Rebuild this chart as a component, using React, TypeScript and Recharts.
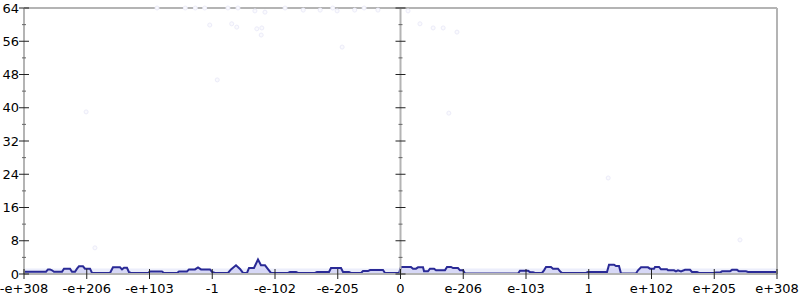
import { ComposedChart, Area, Scatter, XAxis, YAxis, ReferenceLine, ReferenceArea } from 'recharts'

// x positions are in tick units (0..12), one unit per labelled tick
const xTickLabels = ['-e+308', '-e+206', '-e+103', '-1', '-e-102', '-e-205', '0', 'e-206', 'e-103', '1', 'e+102', 'e+205', 'e+308']
const xTicks = [0, 1, 2, 3, 4, 5, 6, 7, 8, 9, 10, 11, 12]
const yTicks = [0, 4, 8, 12, 16, 20, 24, 28, 32, 36, 40, 44, 48, 52, 56, 60, 64]

const countX = [
  0, 0.351, 0.382, 0.414, 0.446, 0.478, 0.606, 0.637, 0.733, 0.765, 0.813, 0.845, 0.876, 0.94, 0.972, 1.052,
  1.084, 1.371, 1.418, 1.53, 1.562, 1.594, 1.641, 1.673, 1.705, 1.976, 2.008, 2.199, 2.231, 2.438, 2.47, 2.598,
  2.629, 2.725, 2.773, 2.821, 2.964, 2.996, 3.044, 3.251, 3.299, 3.378, 3.442, 3.49, 3.554, 3.586, 3.665, 3.729,
  3.777, 3.841, 3.888, 3.936, 4.207, 4.239, 4.335, 4.367, 4.637, 4.669, 4.861, 4.892, 5.052, 5.084, 5.179, 5.211,
  5.371, 5.402, 5.482, 5.514, 5.721, 5.753, 5.976, 6.008, 6.167, 6.199, 6.247, 6.279, 6.359, 6.375, 6.438, 6.47,
  6.534, 6.566, 6.709, 6.741, 6.805, 6.837, 6.916, 6.948, 6.996, 7.028, 7.873, 7.904, 8.032, 8.064, 8.112, 8.143,
  8.255, 8.287, 8.319, 8.398, 8.43, 8.51, 8.542, 8.574, 8.956, 8.988, 9.291, 9.323, 9.402, 9.434, 9.482, 9.514,
  9.753, 9.785, 9.833, 9.944, 9.976, 10.04, 10.056, 10.12, 10.151, 10.247, 10.263, 10.359, 10.39, 10.422, 10.47, 10.534,
  10.614, 10.645, 10.725, 10.757, 10.996, 11.028, 11.092, 11.124, 11.251, 11.283, 11.363, 11.394, 11.506, 11.538, 12,
]
const countY = [
  0.55, 0.55, 1.1, 1.1, 0.9, 0.55, 0.55, 1.28, 1.28, 0.55, 0.55, 1.28, 1.85, 1.85, 1.28, 1.28,
  0.25, 0.25, 1.6, 1.6, 1.12, 1.5, 1.5, 0.45, 0.25, 0.25, 0.6, 0.6, 0.25, 0.25, 0.6, 0.6,
  1.1, 1.1, 1.6, 1.1, 1.1, 0.5, 0.25, 0.25, 1.1, 2.1, 1.2, 0.25, 0.25, 1.45, 1.45, 3.5,
  2.1, 2.1, 1.2, 0.25, 0.25, 0.48, 0.48, 0.25, 0.25, 0.48, 0.48, 1.45, 1.45, 0.48, 0.48, 0.25,
  0.25, 0.7, 0.7, 0.95, 0.95, 0.25, 0.25, 1.7, 1.7, 1.28, 1.28, 1.6, 1.6, 0.64, 0.64, 1.28,
  1.28, 0.88, 0.88, 1.7, 1.7, 1.44, 1.44, 0.88, 0.88, 0.1, 0.1, 0.8, 0.8, 0.45, 0.45, 0.25,
  0.25, 0.88, 1.7, 1.7, 1.28, 1.28, 0.64, 0.25, 0.25, 0.48, 0.48, 2.25, 2.25, 1.92, 1.92, 0.1,
  0.1, 0.88, 1.6, 1.6, 1.28, 1.28, 1.7, 1.7, 1.12, 1.12, 0.9, 0.9, 0.64, 0.88, 0.64, 1.0,
  1.0, 0.48, 0.48, 0.25, 0.25, 0.36, 0.36, 0.64, 0.64, 1.0, 1.0, 0.64, 0.64, 0.5, 0.5,
]

// faint sample dots
const dotX = [2.12, 2.57, 2.73, 2.88, 3.25, 3.41, 3.68, 3.84, 4.16, 4.45, 4.72, 4.92, 4.99, 5.27, 5.42, 5.64, 6.12, 6.31, 6.52, 6.68, 6.9, 2.96, 3.31, 3.39, 3.71, 3.79, 3.78, 5.07, 3.08, 6.77, 0.99, 9.31, 11.41, 1.13]
const dotY = [64, 64, 64, 64, 64, 64, 63.3, 63, 64, 63.5, 63.5, 64, 63.3, 63.5, 64, 63.5, 63.3, 60.2, 59.2, 59.2, 58.2, 59.9, 60.2, 59.4, 59, 59.2, 57.5, 54.6, 46.7, 38.7, 39, 23.1, 8.2, 6.3]

const data = countX.map((x, i) => ({ x, count: countY[i] }))
const dots = dotX.map((x, i) => ({ x, y: dotY[i] }))
const midTicks = yTicks.map((y) => ({ x: 6, y }))

const FONT = 'DejaVu Sans'
const GRAY = '#b4b4b4'

const XTick = ({ x, y, index }: any) => (
  <g>
    <line x1={x} x2={x} y1={y - 5} y2={y + 5} stroke="#222" strokeWidth={1} />
    <text x={x} y={y + 19} textAnchor="middle" fontFamily={FONT} fontSize={13} fill="#000">
      {xTickLabels[index]}
    </text>
  </g>
)

const YTickLeft = ({ x, y, payload }: any) => {
  const major = payload.value % 8 === 0
  return (
    <g>
      <line x1={major ? x - 5 : x - 2} x2={major ? x + 5 : x + 2} y1={y} y2={y} stroke={major ? '#222' : '#666'} />
      {major && (
        <text x={x - 5} y={y} dy="0.36em" textAnchor="end" fontFamily={FONT} fontSize={13} fill="#000">
          {payload.value}
        </text>
      )}
    </g>
  )
}

const YTickRight = ({ x, y, payload }: any) => {
  const major = payload.value % 8 === 0
  return <line x1={major ? x - 5 : x - 2} x2={major ? x + 5 : x + 2} y1={y} y2={y} stroke={major ? '#222' : '#666'} />
}

const MidTick = ({ cx, cy, payload }: any) => {
  const major = payload.y % 8 === 0
  return <line x1={major ? cx - 5 : cx - 2} x2={major ? cx + 5 : cx + 2} y1={cy} y2={cy} stroke={major ? '#222' : '#666'} />
}

const Dot = ({ cx, cy }: any) => <circle cx={cx} cy={cy} r={2} fill="#fafafe" stroke="#ececf9" strokeWidth={1} />

export default function App() {
  return (
    <div style={{ position: 'absolute', left: 0, top: 0, background: '#fff' }}>
      <ComposedChart width={800} height={300} data={data} margin={{ top: 8, right: 0, bottom: 0, left: 0 }}>
        <ReferenceArea yAxisId="l" x1={0} x2={12} y1={0} y2={1.3} fill="#eceefb" fillOpacity={1} stroke="none" />
        <XAxis
          dataKey="x"
          type="number"
          domain={[0, 12]}
          ticks={xTicks}
          interval={0}
          height={26}
          tickSize={0}
          tickMargin={0}
          tick={<XTick />}
          axisLine={{ stroke: GRAY, strokeWidth: 2 }}
          allowDataOverflow
        />
        <YAxis
          yAxisId="l"
          domain={[0, 64]}
          ticks={yTicks}
          interval={0}
          width={24}
          tickSize={0}
          tickMargin={0}
          tick={<YTickLeft />}
          axisLine={{ stroke: GRAY, strokeWidth: 2 }}
        />
        <YAxis
          yAxisId="r"
          orientation="right"
          domain={[0, 64]}
          ticks={yTicks}
          interval={0}
          width={23}
          tickSize={0}
          tickMargin={0}
          tick={<YTickRight />}
          axisLine={{ stroke: GRAY, strokeWidth: 2 }}
        />
        <ReferenceLine yAxisId="l" y={64} stroke={GRAY} strokeWidth={2} />
        <ReferenceLine yAxisId="l" x={6} stroke={GRAY} strokeWidth={2} />
        <Scatter yAxisId="l" data={midTicks} dataKey="y" shape={<MidTick />} isAnimationActive={false} />
        <Scatter yAxisId="l" data={dots} dataKey="y" shape={<Dot />} isAnimationActive={false} />
        <Area
          yAxisId="l"
          type="linear"
          dataKey="count"
          stroke="#2a2a96"
          strokeWidth={2}
          fill="#cfcff4"
          fillOpacity={0.7}
          dot={false}
          activeDot={false}
          isAnimationActive={false}
        />
        <ReferenceLine yAxisId="l" y={0} stroke="#3a3ad8" strokeWidth={2} />
      </ComposedChart>
    </div>
  )
}
